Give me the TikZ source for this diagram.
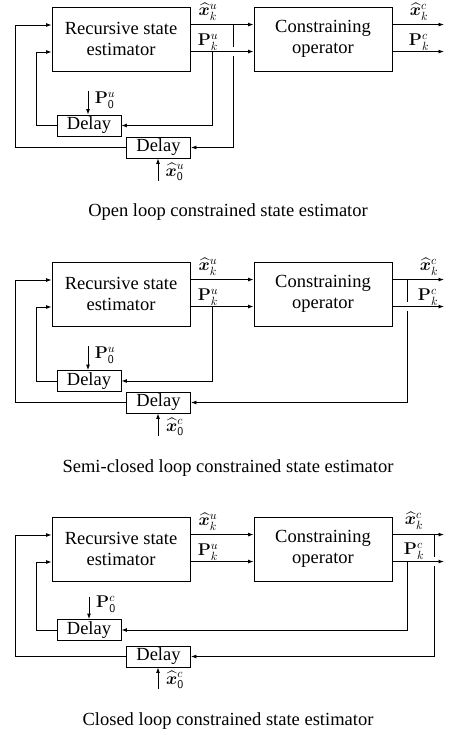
\RequirePackage{fix-cm}
\documentclass[tikz,border=0pt]{standalone}
\usepackage[no-math]{fontspec}
\setmainfont{Liberation Serif}
\usepackage{amsmath,bm}
\usetikzlibrary{arrows.meta,calc}
\tikzset{
 blk/.style={draw, line width=0.9pt, minimum width=138pt, minimum height=64pt, inner sep=0pt, align=center, font=\fontsize{18.5}{21.5}\selectfont},
 dly/.style={draw, line width=0.9pt, minimum width=64pt, minimum height=21pt, inner sep=0pt, font=\fontsize{18.5}{21.7}\selectfont},
 arr/.style={line width=0.9pt, -{Latex[length=5.5pt,width=4pt]}},
 ln/.style={line width=0.9pt},
 lbl/.style={inner sep=0pt, font=\fontsize{17}{20}\selectfont},
 captxt/.style={inner sep=0pt, font=\fontsize{18.5}{21}\selectfont},
}
\newcommand\xh{\widehat{\bm{x}}}
\begin{document}
\begin{tikzpicture}[x=1pt,y=-1pt]
\useasboundingbox (0,0) rectangle (455,735);
% ---------------- Panel 1 ----------------
\begin{scope}
\node[blk] (arse) at (121,39) {Recursive state\\estimator};
\node[blk] (aco) at (323,39) {Constraining\\operator};
\node[dly] (ad1) at (89,125.5) {Delay};
\node[dly] (ad2) at (158.5,147.5) {Delay};
\coordinate (axo) at ($(arse.north east)+(0,18)$);
\coordinate (apo) at ($(arse.north east)+(0,45)$);
\coordinate (aout) at (444,0);
\draw[arr] (axo) -- (axo -| aco.west);
\draw[arr] (apo) -- (apo -| aco.west);
\draw[arr] (aco.east |- axo) -- (aout |- axo);
\draw[arr] (aco.east |- apo) -- (aout |- apo);
\coordinate (apt) at (212,52);
\draw[arr] (apt) |- (ad1.east);
\coordinate (al1) at (36,52);
\draw[arr] (ad1.west) -| (al1) -- (al1 -| arse.west);
\coordinate (axt) at (233,25);
\draw[ln] (axt) -- ++(0,22);
\draw[arr] ($(axt)+(0,31)$) |- (ad2.east);
\coordinate (al2) at (15,25);
\draw[arr] (ad2.west) -| (al2) -- (al2 -| arse.west);
\coordinate (ap0) at (88,91);
\draw[arr] (ap0) -- (ap0 |- ad1.north);
\node[lbl] (ap0l) at (105,100) {$\mathbf{P}_{\mathsf{0}}^{u}$};
\coordinate (ax0) at (158,181);
\draw[arr] (ax0) -- (ax0 |- ad2.south);
\node[lbl] (ax0l) at (175,172) {$\xh_{\mathsf{0}}^{u}$};
\node[lbl] (axl) at (208,12) {$\xh_k^u$};
\node[lbl] (apl) at (208,42) {$\mathbf{P}_k^u$};
\node[lbl] (axcl) at (419,12) {$\xh_k^c$};
\node[lbl] (apcl) at (419,42) {$\mathbf{P}_k^c$};
\node[captxt] (acap) at (228,212) {Open loop constrained state estimator};
\end{scope}
% ---------------- Panel 2 ----------------
\begin{scope}[shift={(0,255)}]
\node[blk] (brse) at (121,39) {Recursive state\\estimator};
\node[blk] (bco) at (323,39) {Constraining\\operator};
\node[dly] (bd1) at (89,126) {Delay};
\node[dly] (bd2) at (158.5,147.5) {Delay};
\coordinate (bxo) at ($(brse.north east)+(0,18)$);
\coordinate (bpo) at ($(brse.north east)+(0,45)$);
\coordinate (bout) at (444,0);
\draw[arr] (bxo) -- (bxo -| bco.west);
\draw[arr] (bpo) -- (bpo -| bco.west);
\draw[arr] (bco.east |- bxo) -- (bout |- bxo);
\draw[arr] (bco.east |- bpo) -- (bout |- bpo);
\coordinate (bpt) at (212,52);
\draw[arr] (bpt) |- (bd1.east);
\coordinate (bl1) at (36,52);
\draw[arr] (bd1.west) -| (bl1) -- (bl1 -| brse.west);
\coordinate (bxt) at (407.5,25);
\draw[ln] (bxt) -- ++(0,22);
\draw[arr] ($(bxt)+(0,31)$) |- (bd2.east);
\coordinate (bl2) at (15,25);
\draw[arr] (bd2.west) -| (bl2) -- (bl2 -| brse.west);
\coordinate (bp0) at (88,91);
\draw[arr] (bp0) -- (bp0 |- bd1.north);
\node[lbl] (bp0l) at (105,100) {$\mathbf{P}_{\mathsf{0}}^{u}$};
\coordinate (bx0) at (158,181);
\draw[arr] (bx0) -- (bx0 |- bd2.south);
\node[lbl] (bx0l) at (175,172) {$\xh_{\mathsf{0}}^{c}$};
\node[lbl] (bxl) at (208,12) {$\xh_k^u$};
\node[lbl] (bpl) at (208,42) {$\mathbf{P}_k^u$};
\node[lbl] (bxcl) at (429,12) {$\xh_k^c$};
\node[lbl] (bpcl) at (428,42) {$\mathbf{P}_k^c$};
\node[captxt] (bcap) at (228,213) {Semi-closed loop constrained state estimator};
\end{scope}
% ---------------- Panel 3 ----------------
\begin{scope}[shift={(0,510)}]
\node[blk] (crse) at (121,39) {Recursive state\\estimator};
\node[blk] (cco) at (323,39) {Constraining\\operator};
\node[dly] (cd1) at (89,120) {Delay};
\node[dly] (cd2) at (158.5,146.5) {Delay};
\coordinate (cxo) at ($(crse.north east)+(0,18)$);
\coordinate (cpo) at ($(crse.north east)+(0,45)$);
\coordinate (cout) at (444,0);
\draw[arr] (cxo) -- (cxo -| cco.west);
\draw[arr] (cpo) -- (cpo -| cco.west);
\draw[arr] (cco.east |- cxo) -- (cout |- cxo);
\draw[arr] (cco.east |- cpo) -- (cout |- cpo);
\coordinate (cpt) at (407.5,52);
\draw[arr] (cpt) |- (cd1.east);
\coordinate (cl1) at (36,52);
\draw[arr] (cd1.west) -| (cl1) -- (cl1 -| crse.west);
\coordinate (cxt) at (434,25);
\draw[ln] (cxt) -- ++(0,22);
\draw[arr] ($(cxt)+(0,31)$) |- (cd2.east);
\coordinate (cl2) at (15,25);
\draw[arr] (cd2.west) -| (cl2) -- (cl2 -| crse.west);
\coordinate (cp0) at (89,87);
\draw[arr] (cp0) -- (cp0 |- cd1.north);
\node[lbl] (cp0l) at (106,94) {$\mathbf{P}_{\mathsf{0}}^{c}$};
\coordinate (cx0) at (158,179);
\draw[arr] (cx0) -- (cx0 |- cd2.south);
\node[lbl] (cx0l) at (175,170) {$\xh_{\mathsf{0}}^{c}$};
\node[lbl] (cxl) at (208,12) {$\xh_k^u$};
\node[lbl] (cpl) at (208,42) {$\mathbf{P}_k^u$};
\node[lbl] (cxcl) at (414,11) {$\xh_k^c$};
\node[lbl] (cpcl) at (414,41) {$\mathbf{P}_k^c$};
\node[captxt] (ccap) at (228,211) {Closed loop constrained state estimator};
\end{scope}
\end{tikzpicture}
\end{document}
